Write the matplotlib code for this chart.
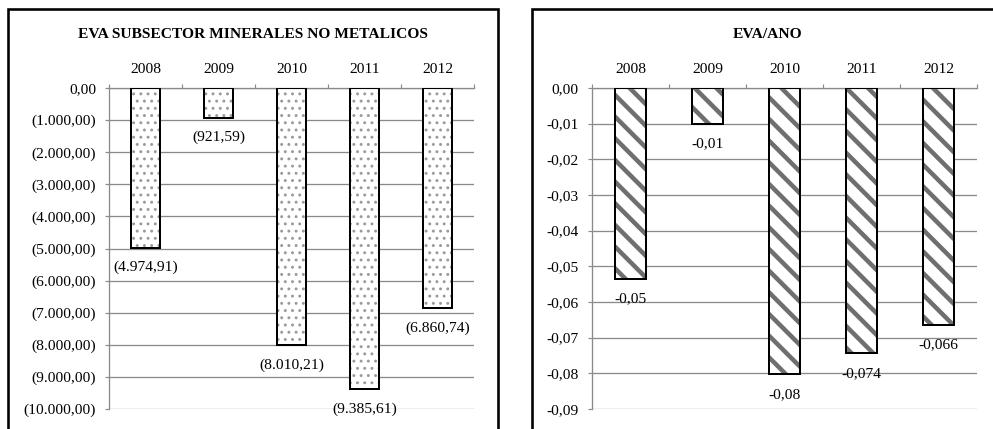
import matplotlib
matplotlib.use("Agg")
import matplotlib.pyplot as plt
from matplotlib.patches import Rectangle
from matplotlib.ticker import FixedLocator, FuncFormatter, NullFormatter

# ---- data ----
years = ["2008", "2009", "2010", "2011", "2012"]
eva_values = [-4974.91, -921.59, -8010.21, -9385.61, -6860.74]
eva_ano_values = [-0.0535, -0.0100, -0.0803, -0.0744, -0.0664]
eva_ano_decimals = [2, 2, 2, 3, 3]
eva_ticks = [0, -1000, -2000, -3000, -4000, -5000, -6000, -7000, -8000, -9000, -10000]
eva_ano_ticks = [0, -0.01, -0.02, -0.03, -0.04, -0.05, -0.06, -0.07, -0.08, -0.09]

title_left = "EVA SUBSECTOR MINERALES NO METALICOS"
title_right = "EVA/ANO"

# ---- figure setup ----
DPI = 130
W, H = 993, 429
plt.rcParams["font.family"] = ["Liberation Serif", "DejaVu Serif"]
fig = plt.figure(figsize=(W / DPI, H / DPI), dpi=DPI)


def pt(pixels):
    return pixels * 72.0 / DPI


FS = pt(15.5)
GRID = "#8a8a8a"


def fmt_money(v, pos=None):
    if abs(v) < 1e-9:
        return "0,00"
    s = f"{abs(v):,.2f}".replace(",", "X").replace(".", ",").replace("X", ".")
    return f"({s})" if v < 0 else s


def fmt_ratio(v, decimals=2):
    if abs(v) < 1e-12:
        return "0," + "0" * decimals
    return f"{v:.{decimals}f}".replace(".", ",")


def axes_px(x0, y0, x1, y1):
    return fig.add_axes([x0 / W, 1 - y1 / H, (x1 - x0) / W, (y1 - y0) / H])


def style_axes(ax, ticks, ymin, formatter):
    n = len(years)
    ax.set_xlim(-0.5, n - 0.5)
    ax.set_ylim(ymin, 0)
    ax.xaxis.tick_top()
    ax.set_xticks(range(n))
    ax.set_xticklabels(years, fontsize=FS)
    ax.xaxis.set_minor_locator(FixedLocator([i - 0.5 for i in range(n + 1)]))
    ax.xaxis.set_minor_formatter(NullFormatter())
    ax.tick_params(axis="x", which="major", length=0, pad=pt(12))
    ax.tick_params(axis="x", which="minor", length=pt(4), width=pt(1.2),
                   color=GRID, direction="out", top=True, bottom=False)
    ax.yaxis.set_major_locator(FixedLocator(ticks))
    ax.yaxis.set_major_formatter(FuncFormatter(formatter))
    ax.tick_params(axis="y", length=pt(4), width=pt(1.2), color=GRID,
                   labelsize=FS, pad=pt(9))
    ax.grid(axis="y", color=GRID, linewidth=pt(1.3))
    ax.set_axisbelow(True)
    for side in ("right", "bottom"):
        ax.spines[side].set_visible(False)
    for side in ("left", "top"):
        ax.spines[side].set_color(GRID)
        ax.spines[side].set_linewidth(pt(1.3))
    ax.set_facecolor("none")


def hatched_bars(ax, values, hatch, hatch_color, hatch_lw):
    x = list(range(len(values)))
    fill = ax.bar(x, values, width=0.4, color="white", edgecolor=hatch_color,
                  hatch=hatch, linewidth=0, zorder=2)
    for p in fill.patches:
        if hasattr(p, "set_hatch_linewidth"):
            p.set_hatch_linewidth(hatch_lw)
    ax.bar(x, values, width=0.4, fill=False, edgecolor="black",
           linewidth=pt(2), zorder=3)
    return x


# ---- panel frames ----
fig.patches.append(Rectangle((8 / W, -0.1), (498 - 8) / W, 1.1 - 9 / H,
                             transform=fig.transFigure, fill=False,
                             edgecolor="black", linewidth=pt(2.6)))
fig.patches.append(Rectangle((532 / W, -0.1), (1004 - 532) / W, 1.1 - 9 / H,
                             transform=fig.transFigure, fill=False,
                             edgecolor="black", linewidth=pt(2.6)))

# ---- left panel: EVA ----
ax1 = axes_px(109, 88, 474, 409)
style_axes(ax1, eva_ticks, -10000, fmt_money)
plt.rcParams["hatch.linewidth"] = pt(1.5)
x1 = hatched_bars(ax1, eva_values, "...", "#9a9a9a", pt(1.5))
for xi, v in zip(x1, eva_values):
    ax1.annotate(fmt_money(v), (xi, v), xytext=(0, -pt(20)),
                 textcoords="offset points", ha="center", va="center",
                 fontsize=FS, zorder=4)
fig.text(253 / W, 1 - 35 / H, title_left, ha="center", va="center",
         fontsize=FS, fontweight="bold")

# ---- right panel: EVA/ANO ----
ax2 = axes_px(592, 88, 977, 409)
style_axes(ax2, eva_ano_ticks, -0.09, lambda v, pos=None: fmt_ratio(v, 2))
plt.rcParams["hatch.linewidth"] = pt(4.5)
x2 = hatched_bars(ax2, eva_ano_values, "\\\\", "#6f6f6f", pt(4.5))
for xi, v, d in zip(x2, eva_ano_values, eva_ano_decimals):
    ax2.annotate(fmt_ratio(v, d), (xi, v), xytext=(0, -pt(20)),
                 textcoords="offset points", ha="center", va="center",
                 fontsize=FS, zorder=4)
fig.text(767 / W, 1 - 35 / H, title_right, ha="center", va="center",
         fontsize=FS, fontweight="bold")

fig.savefig("out.png", dpi=DPI)
